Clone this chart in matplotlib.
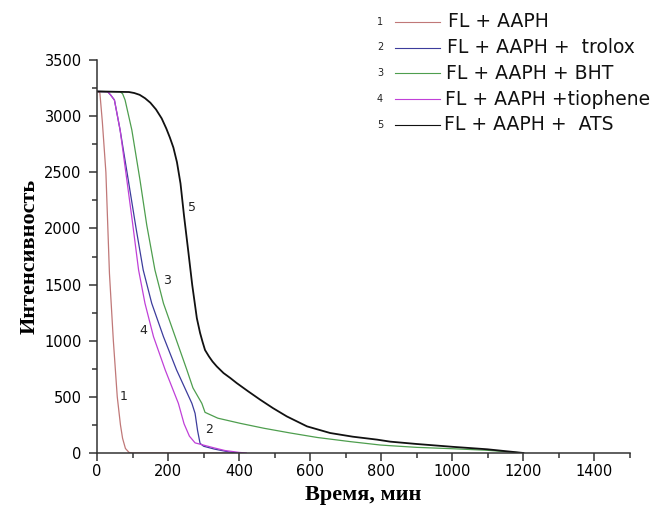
import matplotlib
matplotlib.use("Agg")
import matplotlib.pyplot as plt
from matplotlib.lines import Line2D
from matplotlib.ticker import MultipleLocator

# curve data (time, min / intensity)
x1 = [0, 8, 15, 25, 35, 46, 57, 66, 72, 80, 90, 100, 400]
y1 = [3220, 3210, 2950, 2500, 1600, 1000, 500, 250, 130, 40, 5, 0, 0]

x2 = [0, 30, 38, 49, 65, 88, 110, 130, 154, 187, 224, 267, 276, 283, 290, 300, 330, 370, 400]
y2 = [3220, 3218, 3190, 3144, 2877, 2431, 2000, 1630, 1333, 1036, 739, 442, 353, 200, 86, 60, 35, 10, 0]

x3 = [0, 65, 72, 79, 98, 121, 140, 163, 187, 220, 253, 270, 295, 304, 340, 403, 470,
      544, 620, 713, 797, 825, 900, 1000, 1098, 1200]
y3 = [3220, 3218, 3200, 3144, 2877, 2431, 2030, 1630, 1333, 1036, 739, 580, 442, 362, 310,
      264, 220, 178, 138, 101, 71, 65, 50, 38, 24, 0]

x4 = [0, 30, 38, 49, 65, 84, 100, 117, 135, 159, 192, 229, 245, 260, 276, 300, 330, 360, 400, 420]
y4 = [3220, 3218, 3190, 3144, 2877, 2431, 2050, 1630, 1333, 1036, 739, 442, 260, 150, 90,
      70, 45, 22, 5, 0]

x5 = [0, 90, 105, 120, 135, 150, 166, 182, 195, 205, 215, 225, 235, 245, 257, 268, 281,
      290, 297, 304, 315, 325, 337, 356, 375, 393, 425, 459, 495, 534, 591, 656, 720,
      788, 825, 900, 1000, 1098, 1200]
y5 = [3220, 3215, 3206, 3190, 3160, 3120, 3060, 2980, 2890, 2810, 2720, 2590, 2400, 2110,
      1793, 1496, 1200, 1070, 990, 917, 860, 815, 771, 712, 668, 623, 550, 475, 400, 326,
      237, 178, 145, 119, 101, 80, 55, 33, 0]

labels = ["FL + AAPH", "FL + AAPH +  trolox", "FL + AAPH + BHT",
          "FL + AAPH +tiophene", "FL + AAPH +  ATS"]
colors = ["#c07878", "#3c3c9c", "#4e9e4e", "#c040d8", "#111111"]
# where the curve numbers sit (data coords)
num_pos = [(74, 500), (314, 205), (196, 1540), (129, 1095), (267, 2190)]

fig = plt.figure(figsize=(6.59, 5.13), dpi=100)
ax = fig.add_axes([0.1472, 0.117, 0.8088, 0.766])

series = [(x1, y1), (x2, y2), (x3, y3), (x4, y4), (x5, y5)]
for i, (xs, ys) in enumerate(series):
    lw = 1.3 if i == 4 else 0.9
    ax.plot(xs, ys, color=colors[i], lw=lw)
    ax.text(num_pos[i][0], num_pos[i][1], str(i + 1), fontsize=9, color="#222222",
            ha="center", va="center")

ax.set_xlim(0, 1500)
ax.set_ylim(0, 3500)
ax.xaxis.set_major_locator(MultipleLocator(200))
ax.xaxis.set_minor_locator(MultipleLocator(100))
ax.yaxis.set_major_locator(MultipleLocator(500))
ax.yaxis.set_minor_locator(MultipleLocator(250))
ax.set_xticks([0, 200, 400, 600, 800, 1000, 1200, 1400])

for s in ["top", "right"]:
    ax.spines[s].set_visible(False)
for s in ["left", "bottom"]:
    ax.spines[s].set_linewidth(1.1)
    ax.spines[s].set_color("#333333")

ax.tick_params(which="major", length=6, width=1.1, color="#333333", labelsize=10.5, pad=2)
ax.tick_params(which="minor", length=3.5, width=1.1, color="#333333")
ax.tick_params(axis="y", which="major", pad=5)

ax.set_xlabel("Время, мин", fontsize=16, fontweight="bold", family="Liberation Serif",
              labelpad=4)
ax.set_ylabel("Интенсивность", fontsize=16, fontweight="bold", family="Liberation Serif",
              labelpad=3)

# legend drawn by hand: number, short line, label
W, H = 659.0, 513.0
for i in range(5):
    py = 21.7 + i * 25.8
    fy = 1 - py / H
    fig.text(380 / W, fy, str(i + 1), fontsize=7, color="#222222", ha="center", va="center")
    fig.add_artist(Line2D([395 / W, 440 / W], [fy, fy], color=colors[i], lw=0.8,
                          transform=fig.transFigure))
    fig.text((448 - i) / W, fy, labels[i], fontsize=13.5, color="#111111", ha="left",
             va="center")

fig.savefig("out.png", dpi=100)
